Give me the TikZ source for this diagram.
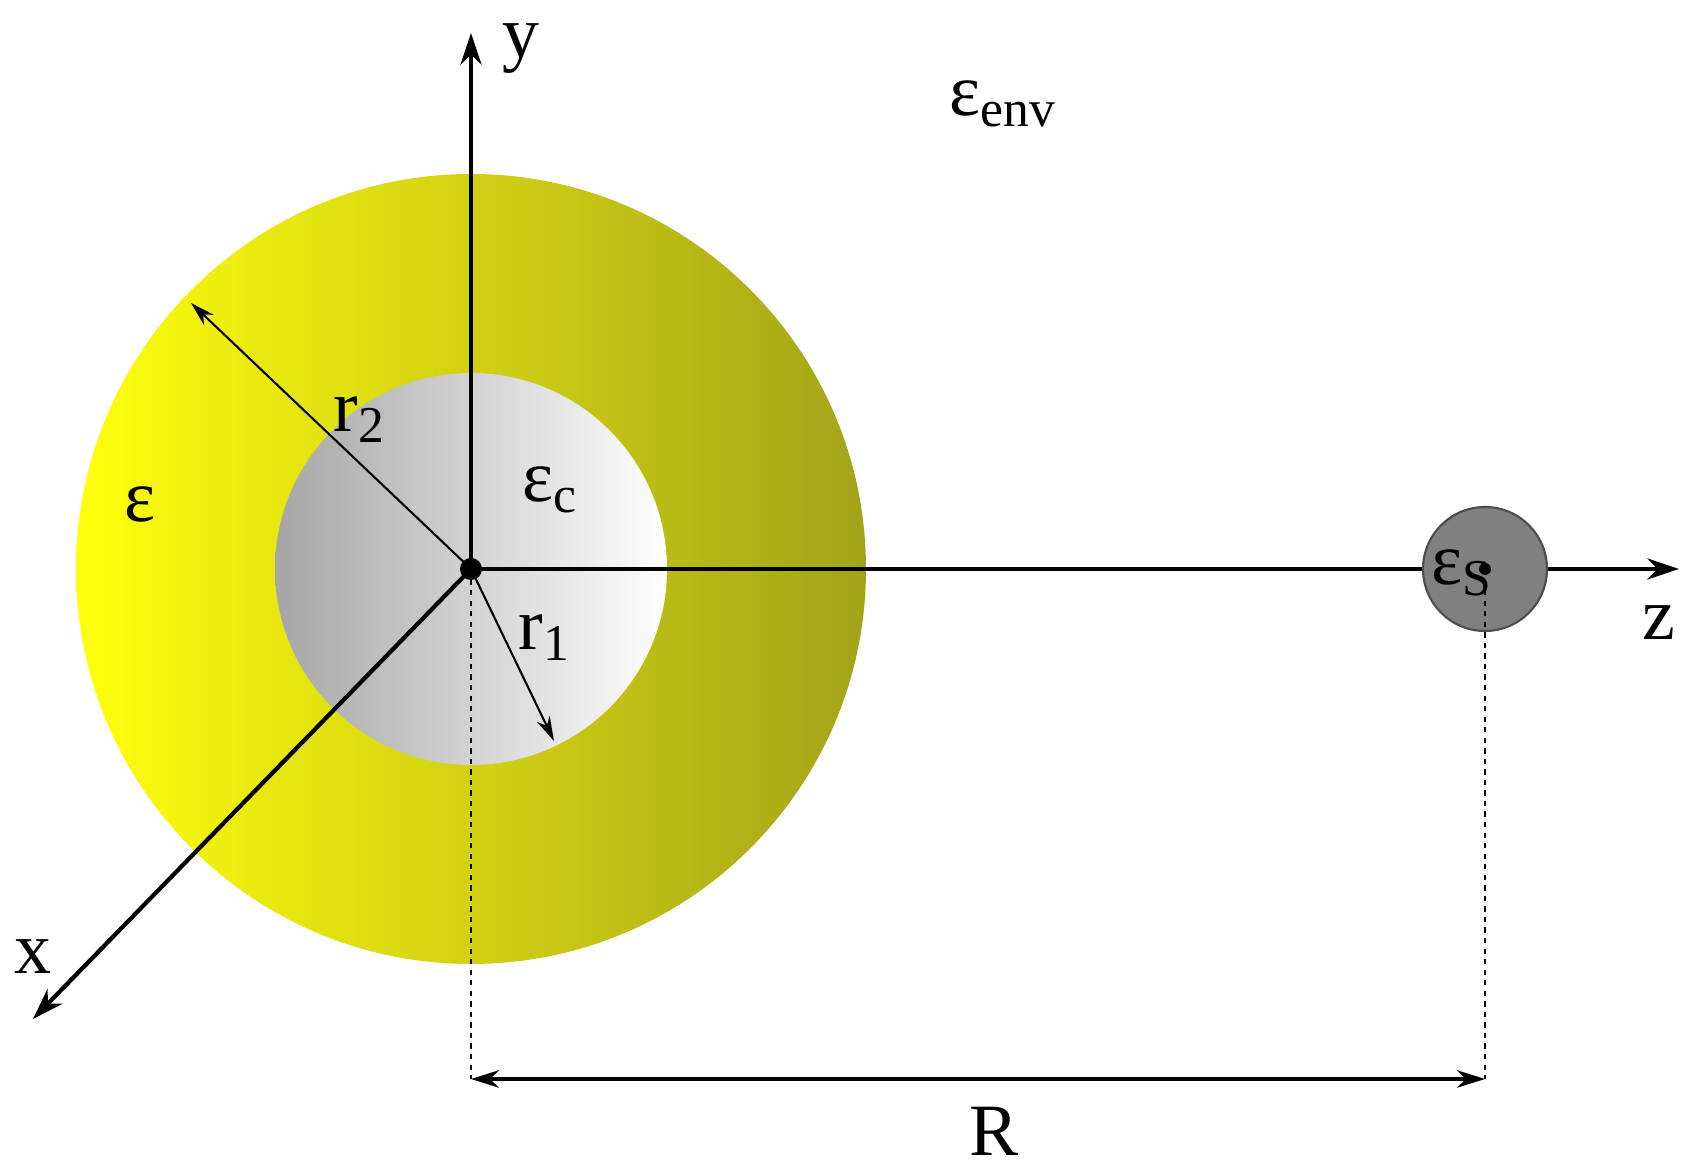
\documentclass[tikz,border=0pt]{standalone}
\usepackage{fontspec}
\setmainfont{Liberation Serif}
\usetikzlibrary{arrows.meta}
\begin{document}
\begin{tikzpicture}[
  lbl/.style={font=\fontsize{21}{23}\selectfont, inner sep=0pt},
  axis/.style={line width=1.2pt, -{Stealth[length=9pt,width=6pt]}},
  dim/.style={line width=0.6pt, -{Stealth[length=7pt,width=4pt]}},
  dots/.style={dash pattern=on 1.5pt off 1.5pt, line width=0.8pt}]
\useasboundingbox (0,0) rectangle (17.08,11.75);
\coordinate (O) at (4.71,6.06);
\coordinate (S) at (14.85,6.06);
\shade[left color=yellow!95!white, middle color=yellow!85!black, right color=yellow!60!black!90] (O) circle (3.95);
\shade[left color=black!35, right color=white] (O) circle (1.96);
\coordinate (ytop) at (4.71,11.42);
\coordinate (zend) at (16.79,6.06);
\coordinate (xend) at (0.33,1.56);
\draw[axis] (O) -- (ytop);
\draw[axis] (O) -- (zend);
\draw[axis] (O) -- (xend);
\fill[black!50] (S) circle (0.62);
\draw[black!70, line width=0.6pt] (S) circle (0.62);
\coordinate (r2e) at (1.91,8.72);
\coordinate (r1e) at (5.54,4.34);
\draw[dim] (O) -- (r2e);
\draw[dim] (O) -- (r1e);
\coordinate (Ob) at (4.71,0.96);
\coordinate (Sb) at (14.85,0.96);
\draw[dots] (O) -- (Ob);
\draw[dots] (S) -- (Sb);
\draw[line width=1pt, {Stealth[length=8pt,width=5pt]}-{Stealth[length=8pt,width=5pt]}] (Ob) -- (Sb);
\fill (O) circle (0.11);
\fill (S) circle (0.06);
\node[lbl] (ly) at (5.21,11.26) {y};
\node[lbl] (lz) at (16.59,5.52) {z};
\node[lbl] (lx) at (0.33,2.18) {x};
\node[lbl] (lr2) at (3.6,7.55) {r\textsubscript{2}};
\node[lbl] (lr1) at (5.45,5.37) {r\textsubscript{1}};
\node[lbl] (le) at (1.40,6.71) {ε};
\node[lbl] (lec) at (5.5,6.85) {ε\textsubscript{c}};
\node[lbl] (lenv) at (10.03,10.71) {ε\textsubscript{env}};
\node[lbl] (les) at (14.62,6.02) {ε\textsubscript{S}};
\node[lbl] (lR) at (9.94,0.44) {R};
\end{tikzpicture}
\end{document}
